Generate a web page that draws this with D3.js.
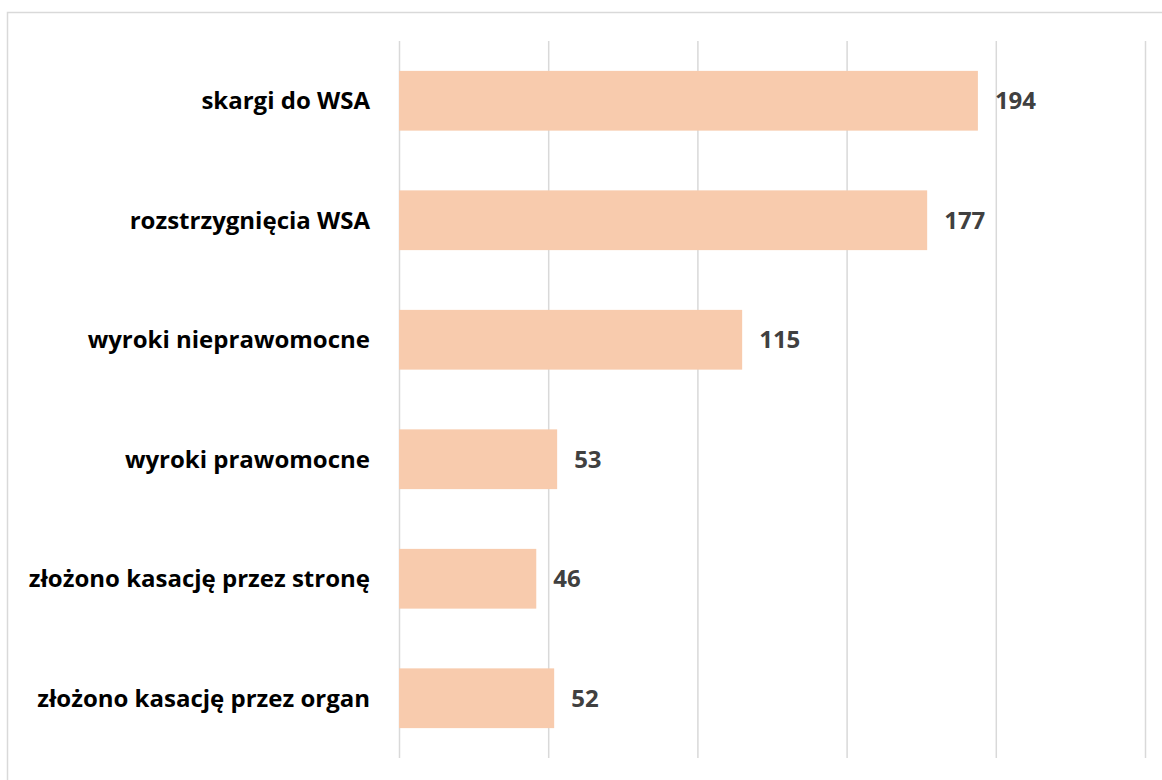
<!DOCTYPE html>
<meta charset="utf-8">
<style>
body { margin: 0; background: #fff; }
svg { display: block; }
.cat { font: bold 24px "Open Sans", sans-serif; fill: #000; }
.val { font: bold 24px "Open Sans", sans-serif; fill: #404040; }
.grid line { stroke: #d9d9d9; stroke-width: 1.5px; }
.grid .domain { display: none; }
</style>
<body>
<script src="https://cdn.jsdelivr.net/npm/d3@7"></script>
<script>

var categories = ["skargi do WSA", "rozstrzygnięcia WSA", "wyroki nieprawomocne",
                  "wyroki prawomocne", "złożono kasację przez stronę", "złożono kasację przez organ"];
var values = [194, 177, 115, 53, 46, 52];
var ticks = [0, 50, 100, 150, 200, 250];

var width = 1162, height = 780;
var margin = {top: 41, right: 17, bottom: 22, left: 399};

var svg = d3.select("body").append("svg")
    .attr("width", width)
    .attr("height", height);

// chart frame (runs off the right and bottom edge)
svg.append("rect")
    .attr("x", 7.5).attr("y", 12.5)
    .attr("width", 1170).attr("height", 790)
    .attr("fill", "none")
    .attr("stroke", "#d9d9d9")
    .attr("stroke-width", 1.5);

var x = d3.scaleLinear()
    .domain([0, 250])
    .range([margin.left, width - margin.right]);

var y = d3.scaleBand()
    .domain(categories)
    .range([margin.top, height - margin.bottom])
    .paddingInner(0.5)
    .paddingOuter(0.25);

svg.append("g")
    .attr("class", "grid")
    .attr("transform", "translate(0," + margin.top + ")")
    .call(d3.axisBottom(x).tickValues(ticks).tickSize(height - margin.top - margin.bottom).tickFormat(""));

var data = categories.map(function(c, i) { return {name: c, value: values[i]}; });

svg.selectAll(".bar")
    .data(data)
  .enter().append("rect")
    .attr("class", "bar")
    .attr("x", x(0))
    .attr("y", function(d) { return y(d.name); })
    .attr("width", function(d) { return x(d.value) - x(0); })
    .attr("height", y.bandwidth())
    .attr("fill", "#f8cbad");

svg.selectAll(".cat")
    .data(data)
  .enter().append("text")
    .attr("class", "cat")
    .attr("x", x(0) - 29)
    .attr("y", function(d) { return y(d.name) + y.bandwidth() / 2; })
    .attr("dy", "0.35em")
    .attr("text-anchor", "end")
    .text(function(d) { return d.name; });

svg.selectAll(".val")
    .data(data)
  .enter().append("text")
    .attr("class", "val")
    .attr("x", function(d) { return x(d.value) + 17; })
    .attr("y", function(d) { return y(d.name) + y.bandwidth() / 2; })
    .attr("dy", "0.35em")
    .text(function(d) { return d.value; });

</script>
